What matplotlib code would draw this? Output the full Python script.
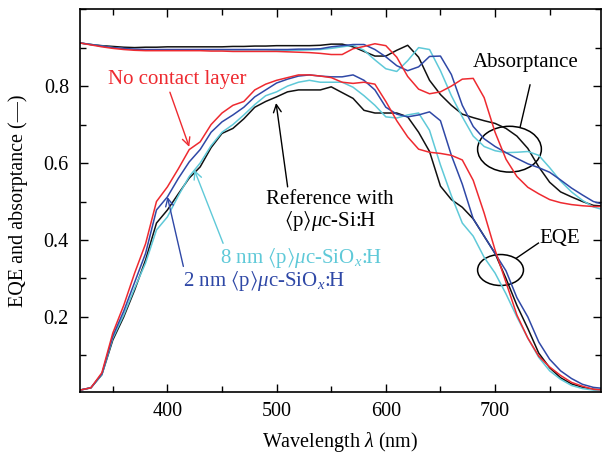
import numpy as np
import matplotlib
matplotlib.use('Agg')
import matplotlib.pyplot as plt
from matplotlib.patches import Ellipse
from matplotlib.ticker import MultipleLocator

plt.rcParams['font.family'] = ['Liberation Serif', 'DejaVu Serif']
plt.rcParams['mathtext.fontset'] = 'custom'
plt.rcParams['mathtext.rm'] = 'Liberation Serif'
plt.rcParams['mathtext.it'] = 'Liberation Serif:italic'
plt.rcParams['mathtext.fallback'] = 'stix'

# wavelength grid (nm)
wl = np.arange(320, 801, 10)

# EQE curves
eqe_none = [0.010, 0.016, 0.055, 0.158, 0.230, 0.314, 0.390, 0.500, 0.538, 0.585,
            0.635, 0.655, 0.700, 0.730, 0.750, 0.760, 0.790, 0.805, 0.815, 0.822,
            0.829, 0.829, 0.826, 0.822, 0.810, 0.807, 0.810, 0.805, 0.760, 0.710,
            0.668, 0.636, 0.628, 0.625, 0.620, 0.608, 0.555, 0.470, 0.374, 0.290,
            0.205, 0.145, 0.098, 0.070, 0.048, 0.030, 0.020, 0.012, 0.010]
eqe_2nm = [0.010, 0.016, 0.052, 0.150, 0.215, 0.290, 0.365, 0.478, 0.512, 0.560,
           0.603, 0.635, 0.680, 0.707, 0.725, 0.745, 0.772, 0.790, 0.808, 0.818,
           0.826, 0.829, 0.826, 0.824, 0.824, 0.829, 0.815, 0.790, 0.745, 0.727,
           0.720, 0.725, 0.733, 0.710, 0.620, 0.545, 0.455, 0.410, 0.365, 0.320,
           0.250, 0.200, 0.135, 0.090, 0.060, 0.040, 0.025, 0.017, 0.014]
eqe_ref = [0.010, 0.016, 0.050, 0.140, 0.200, 0.270, 0.348, 0.444, 0.478, 0.520,
           0.561, 0.590, 0.640, 0.677, 0.690, 0.715, 0.745, 0.760, 0.772, 0.785,
           0.790, 0.790, 0.790, 0.798, 0.783, 0.768, 0.737, 0.730, 0.730, 0.730,
           0.720, 0.680, 0.630, 0.540, 0.505, 0.485, 0.455, 0.410, 0.365, 0.300,
           0.230, 0.170, 0.106, 0.068, 0.042, 0.026, 0.017, 0.012, 0.010]
eqe_8nm = [0.010, 0.016, 0.050, 0.145, 0.205, 0.275, 0.340, 0.426, 0.460, 0.515,
           0.565, 0.600, 0.645, 0.680, 0.700, 0.725, 0.752, 0.775, 0.785, 0.800,
           0.810, 0.815, 0.810, 0.810, 0.810, 0.797, 0.775, 0.750, 0.720, 0.717,
           0.725, 0.730, 0.685, 0.595, 0.515, 0.444, 0.410, 0.355, 0.314, 0.260,
           0.200, 0.145, 0.095, 0.060, 0.038, 0.022, 0.014, 0.010, 0.008]

# absorptance curves
abs_none = [0.912, 0.907, 0.902, 0.898, 0.895, 0.893, 0.892, 0.892, 0.892, 0.892,
            0.892, 0.892, 0.891, 0.891, 0.890, 0.890, 0.890, 0.890, 0.890, 0.889,
            0.888, 0.887, 0.885, 0.882, 0.882, 0.897, 0.903, 0.910, 0.905, 0.875,
            0.825, 0.792, 0.780, 0.785, 0.800, 0.818, 0.820, 0.770, 0.680, 0.610,
            0.565, 0.537, 0.520, 0.505, 0.497, 0.492, 0.489, 0.487, 0.487]
abs_2nm = [0.912, 0.908, 0.904, 0.900, 0.898, 0.896, 0.895, 0.895, 0.895, 0.895,
           0.895, 0.895, 0.895, 0.895, 0.895, 0.895, 0.895, 0.895, 0.895, 0.895,
           0.896, 0.896, 0.897, 0.902, 0.905, 0.908, 0.908, 0.895, 0.876, 0.853,
           0.840, 0.850, 0.877, 0.878, 0.830, 0.750, 0.695, 0.663, 0.643, 0.627,
           0.612, 0.598, 0.588, 0.576, 0.556, 0.535, 0.517, 0.500, 0.492]
abs_ref = [0.912, 0.908, 0.905, 0.903, 0.901, 0.900, 0.901, 0.901, 0.902, 0.902,
           0.902, 0.902, 0.902, 0.902, 0.903, 0.903, 0.904, 0.904, 0.905, 0.905,
           0.905, 0.905, 0.906, 0.909, 0.909, 0.902, 0.890, 0.878, 0.878, 0.893,
           0.906, 0.875, 0.815, 0.778, 0.750, 0.727, 0.718, 0.710, 0.703, 0.690,
           0.670, 0.638, 0.590, 0.550, 0.525, 0.512, 0.500, 0.490, 0.488]
abs_8nm = [0.912, 0.908, 0.904, 0.900, 0.897, 0.895, 0.894, 0.894, 0.894, 0.894,
           0.894, 0.894, 0.894, 0.894, 0.894, 0.894, 0.894, 0.894, 0.893, 0.893,
           0.893, 0.894, 0.895, 0.898, 0.902, 0.906, 0.893, 0.868, 0.845, 0.838,
           0.866, 0.900, 0.895, 0.840, 0.775, 0.720, 0.670, 0.643, 0.632, 0.627,
           0.628, 0.630, 0.620, 0.588, 0.553, 0.525, 0.503, 0.486, 0.478]

c_red = '#ee2a30'
c_blue = '#2f48a6'
c_cyan = '#5fc9d8'
c_black = '#111111'

fig = plt.figure(figsize=(6.03, 4.58), dpi=100)
ax = fig.add_axes([0.1327, 0.1441, 0.864, 0.836])

lw = 1.1
ax.plot(wl, abs_ref, color=c_black, lw=lw)
ax.plot(wl, abs_8nm, color=c_cyan, lw=lw)
ax.plot(wl, abs_2nm, color=c_blue, lw=lw)
ax.plot(wl, abs_none, color=c_red, lw=lw)
ax.plot(wl, eqe_ref, color=c_black, lw=lw)
ax.plot(wl, eqe_8nm, color=c_cyan, lw=lw)
ax.plot(wl, eqe_2nm, color=c_blue, lw=lw)
ax.plot(wl, eqe_none, color=c_red, lw=lw)

ax.set_xlim(320, 797)
ax.set_ylim(0.005, 1.0)
ax.xaxis.set_major_locator(MultipleLocator(100))
ax.xaxis.set_minor_locator(MultipleLocator(50))
ax.set_yticks([0.2, 0.4, 0.6, 0.8])
ax.yaxis.set_minor_locator(MultipleLocator(0.1))
ax.tick_params(which='both', direction='in', top=True, right=True, labelsize=14.5)
ax.tick_params(which='major', length=6, width=1)
ax.tick_params(which='minor', length=4, width=1)
ax.tick_params(axis='y', pad=8)
ax.tick_params(axis='x', pad=7)
for s in ax.spines.values():
    s.set_linewidth(1.2)

ax.set_xlabel(r'Wavelength $\lambda$ (nm)', fontsize=14.5, labelpad=7)
ax.set_ylabel('EQE and absorptance (\u2014)', fontsize=14.5, labelpad=11)

fs = 15
arrow = dict(arrowstyle='->', lw=1.0, shrinkA=0, shrinkB=0, mutation_scale=14)

ax.annotate('No contact layer', xy=(420, 0.642), xytext=(409, 0.816),
            color=c_red, fontsize=fs, ha='center', va='center',
            arrowprops=dict(arrow, color=c_red, relpos=(0.44, 0.0)))
ax.annotate('Reference with\n' + r'$\langle\mathrm{p}\rangle\mu\mathrm{c}$-Si:H',
            xy=(499.5, 0.756), xytext=(549, 0.475),
            color='black', fontsize=fs, ha='center', va='center',
            multialignment='center', linespacing=1.0,
            arrowprops=dict(arrow, color='black', relpos=(0.17, 1.0)))
ax.annotate(r'8 nm $\langle\mathrm{p}\rangle\mu\mathrm{c}$-SiO$_x$:H',
            xy=(424.7, 0.582), xytext=(522, 0.353),
            color=c_cyan, fontsize=fs, ha='center', va='center',
            arrowprops=dict(arrow, color=c_cyan, relpos=(0.03, 0.95)))
ax.annotate(r'2 nm $\langle\mathrm{p}\rangle\mu\mathrm{c}$-SiO$_x$:H',
            xy=(400, 0.512), xytext=(488, 0.293),
            color=c_blue, fontsize=fs, ha='center', va='center',
            arrowprops=dict(arrow, color=c_blue, relpos=(0.01, 0.95)))

ax.text(728, 0.862, 'Absorptance', fontsize=fs, ha='center', va='center')
ax.plot([732, 723], [0.803, 0.694], color='black', lw=1.0)
ax.add_patch(Ellipse((713.2, 0.636), 58.4, 0.119, fill=False, ec='black', lw=1.1))

ax.text(759, 0.403, 'EQE', fontsize=fs, ha='center', va='center')
ax.plot([719.6, 739.7], [0.353, 0.392], color='black', lw=1.0)
ax.add_patch(Ellipse((705, 0.322), 42, 0.0805, fill=False, ec='black', lw=1.1))

fig.savefig('out.png', dpi=100)
